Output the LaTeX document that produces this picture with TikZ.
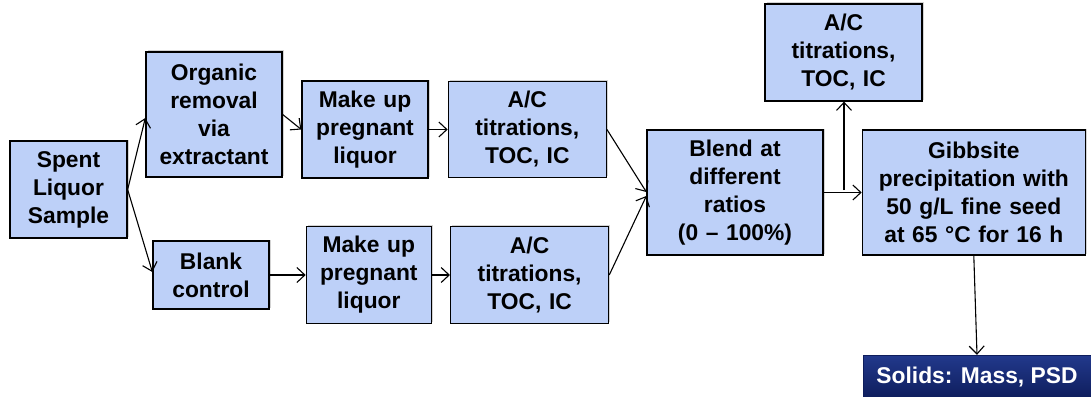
\documentclass[tikz,border=0pt]{standalone}
\usepackage{fontspec}
\setmainfont{Liberation Sans}
\usetikzlibrary{positioning,arrows.meta,shadows}
\definecolor{boxfill}{HTML}{BDD0F8}
\definecolor{navytop}{HTML}{22398C}
\definecolor{navybot}{HTML}{0E1D5C}
\tikzset{
  step box/.style={draw=black, fill=boxfill, line width=1.3pt, align=center,
                   font=\fontsize{22.8}{28}\selectfont\bfseries, inner sep=0pt,
                   drop shadow={shadow xshift=1.5pt, shadow yshift=1.5pt, opacity=0.35}},
  sz/.style 2 args={minimum width=#1pt, minimum height=#2pt, text width=#1pt-6pt},
  result/.style={fill=navybot, top color=navytop, bottom color=navybot, draw=navybot,
                 text=white, font=\fontsize{22.8}{28}\selectfont\bfseries, inner sep=0pt},
  flow/.style={-{Straight Barb[length=8pt, width=15pt]}, line width=1.1pt},
}
\begin{document}
\begin{tikzpicture}[x=1pt, y=-1pt]
  \useasboundingbox (0,0) rectangle (1091,396);

  % --- left branch
  \node[step box, sz={117}{97}] (spent) at (68.5,189.5) {Spent\\Liquor\\Sample};
  \node[step box, sz={136}{125}] (orgrem) at (214,114.5) {Organic\\removal\\via\\extractant};
  \node[step box, sz={116}{68}] (blank) at (211,275) {Blank\\control};

  % --- two parallel lines
  \node[step box, sz={126}{97}] (mkup1) at (365,129.5) {Make up\\pregnant\\liquor};
  \node[step box, sz={158}{96}, right=19pt of mkup1] (titr1) {A/C\\titrations,\\TOC, IC};
  \node[step box, sz={125}{97}, right=36pt of blank] (mkup2) {Make up\\pregnant\\liquor};
  \node[step box, sz={158}{97}, right=18pt of mkup2] (titr2) {A/C\\titrations,\\TOC, IC};

  % --- blend and precipitation
  \node[step box, sz={176}{125}] (blend) at (735,192.5) {Blend at\\different\\ratios\\(0 -- 100\%)};
  \node[step box, sz={223}{125}, right=38pt of blend] (gibb) {Gibbsite\\precipitation with\\50 g/L fine seed\\at 65 °C for 16 h};
  \node[step box, sz={157}{97}] (titr3) at (843.5,52.5) {A/C\\titrations,\\TOC, IC};
  \node[result, minimum width=228pt, minimum height=44pt] (solids) at (977,377) {Solids: Mass, PSD};

  % --- flow
  \draw[flow] (spent.east) -- (orgrem.west |- 0,118);
  \draw[flow] (spent.east) -- (blank.west |- 0,272);
  \draw[flow] (orgrem.east) -- (mkup1.west);
  \draw[flow] (mkup1) -- (titr1);
  \draw[flow] (blank) -- (mkup2);
  \draw[flow] (mkup2) -- (titr2);
  \draw[flow] (titr1.east) -- (blend.west |- 0,192);
  \draw[flow] (titr2.east) -- (blend.west |- 0,196);
  \draw[flow] (blend) -- (gibb);
  \coordinate (split) at (844,190);
  \draw[flow] (split) -- (titr3.south -| split);
  \draw[flow] (gibb.south) -- (solids.north);
\end{tikzpicture}
\end{document}
